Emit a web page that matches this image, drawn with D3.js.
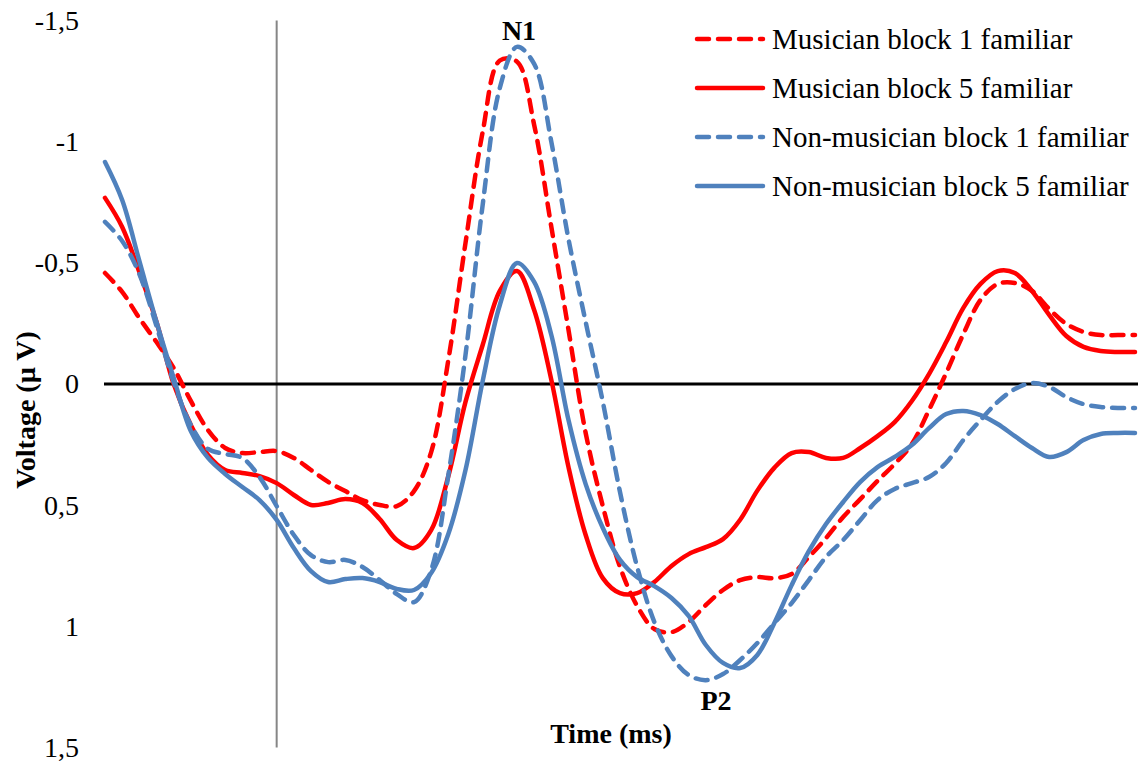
<!DOCTYPE html>
<html>
<head>
<meta charset="utf-8">
<script src="https://cdn.jsdelivr.net/npm/d3@7"></script>
<style>
  html, body { margin: 0; padding: 0; background: #fff; }
  svg { display: block; }
  text { font-family: "Liberation Serif", "Times New Roman", serif; fill: #000; }
</style>
</head>
<body>
<svg id="chart" width="1138" height="767"></svg>
<script>
// Time points (ms), 10 ms step from -100 to 500
const times = d3.range(-100, 501, 10);

// Voltage values (µV); negative is plotted upward
const musicianBlock1 = [
  -0.458, -0.380, -0.272, -0.173, -0.066, 0.070, 0.190, 0.264, 0.285, 0.281,
   0.277,  0.305,  0.355,  0.404,  0.442, 0.479, 0.499, 0.504, 0.442, 0.281,
  -0.099, -0.582, -1.040, -1.335, -1.330, -1.069, -0.648, -0.223, 0.202, 0.504,
   0.755,  0.916,  1.011,  1.024,  0.982, 0.912, 0.850, 0.809, 0.797, 0.801,
   0.784,  0.714,  0.636,  0.549,  0.475, 0.400, 0.330, 0.248, 0.107, -0.045,
  -0.206, -0.347, -0.413, -0.417, -0.384, -0.310, -0.248, -0.215, -0.202, -0.202,
  -0.202
];
const musicianBlock5 = [
  -0.768, -0.648, -0.462, -0.256, 0.000, 0.169, 0.293, 0.355, 0.367, 0.380,
   0.409,  0.458,  0.499,  0.491, 0.475, 0.491, 0.557, 0.644, 0.677, 0.603,
   0.380,  0.074, -0.161, -0.384, -0.466, -0.305, -0.017, 0.343, 0.623, 0.801,
   0.863,  0.863,  0.817,  0.751, 0.702, 0.673, 0.640, 0.560, 0.440, 0.345,
   0.285,  0.281,  0.305,  0.305, 0.264, 0.215, 0.157, 0.070, -0.041, -0.173,
  -0.314, -0.413, -0.466, -0.458, -0.384, -0.285, -0.198, -0.153, -0.136, -0.132,
  -0.132
];
const nonMusicianBlock1 = [
  -0.669, -0.590, -0.454, -0.239, -0.008, 0.169, 0.268, 0.289, 0.305, 0.384,
   0.504,  0.623,  0.706,  0.735,  0.726, 0.755, 0.809, 0.867, 0.900, 0.768,
   0.376, -0.120, -0.739, -1.222, -1.391, -1.321, -0.999, -0.598, -0.256, 0.074,
   0.446,  0.755,  0.982,  1.123,  1.201, 1.222, 1.197, 1.139, 1.069, 0.986,
   0.904,  0.809,  0.714,  0.644,  0.561, 0.479, 0.433, 0.409, 0.384, 0.326,
   0.231,  0.149,  0.074,  0.021, -0.004, 0.012, 0.054, 0.083, 0.095, 0.099,
   0.099
];
const nonMusicianBlock5 = [
  -0.916, -0.759, -0.508, -0.256, -0.025, 0.194, 0.305, 0.371, 0.425, 0.479,
   0.561,  0.677,  0.772,  0.817,  0.805, 0.801, 0.817, 0.846, 0.850, 0.780,
   0.619,  0.355, -0.012, -0.326, -0.499, -0.421, -0.202, 0.149, 0.413, 0.594,
   0.726,  0.797,  0.834,  0.883,  0.957, 1.077, 1.151, 1.172, 1.118, 0.985,
   0.830,  0.690,  0.578,  0.487,  0.404, 0.343, 0.301, 0.252, 0.182, 0.124,
   0.111,  0.128,  0.165,  0.215,  0.264, 0.301, 0.281, 0.231, 0.206, 0.202,
   0.202
];

const seriesNames = [
  "Musician block 1 familiar",
  "Musician block 5 familiar",
  "Non-musician block 1 familiar",
  "Non-musician block 5 familiar"
];
const yTickValues = [-1.5, -1, -0.5, 0, 0.5, 1, 1.5];
const yTickLabels = ["-1,5", "-1", "-0,5", "0", "0,5", "1", "1,5"];

const seriesValues = [musicianBlock1, musicianBlock5, nonMusicianBlock1, nonMusicianBlock5];
const seriesStyle = [
  { color: "#FF0000", dash: "12,9" },
  { color: "#FF0000", dash: null },
  { color: "#4F81BD", dash: "12,9" },
  { color: "#4F81BD", dash: null }
];

const svg = d3.select("#chart");
const x = d3.scaleLinear().domain([-100, 500]).range([105, 1135]);
const y = d3.scaleLinear().domain([-1.5, 1.5]).range([20.5, 747.5]);

// Y axis tick labels (no axis line)
const yAxis = d3.axisLeft(y).tickValues(yTickValues)
  .tickFormat((d, i) => yTickLabels[i]).tickSize(0).tickPadding(0);
const gy = svg.append("g").attr("transform", "translate(79,0)").call(yAxis);
gy.select(".domain").remove();
gy.selectAll("text")
  .style("font-family", '"Liberation Serif", "Times New Roman", serif')
  .style("font-size", "28px").attr("fill", "#000");

// vertical line at t = 0
svg.append("line")
  .attr("x1", x(0)).attr("x2", x(0))
  .attr("y1", y(-1.5)).attr("y2", y(1.5))
  .attr("stroke", "#868686").attr("stroke-width", 2);

// zero line
svg.append("line")
  .attr("x1", 104).attr("x2", 1138)
  .attr("y1", y(0)).attr("y2", y(0))
  .attr("stroke", "#000").attr("stroke-width", 3);

// series lines
const line = d3.line()
  .x((d, i) => x(times[i]))
  .y(d => y(d))
  .curve(d3.curveCatmullRom.alpha(0.5));

seriesValues.forEach((vals, k) => {
  const p = svg.append("path")
    .attr("d", line(vals))
    .attr("fill", "none")
    .attr("stroke", seriesStyle[k].color)
    .attr("stroke-width", 4.5)
    .attr("stroke-linecap", "round")
    .attr("stroke-linejoin", "round");
  if (seriesStyle[k].dash) p.attr("stroke-dasharray", seriesStyle[k].dash);
});

// annotations
svg.append("text").attr("x", 519).attr("y", 40)
  .attr("text-anchor", "middle").style("font-size", "28px").style("font-weight", "bold").text("N1");
svg.append("text").attr("x", 716).attr("y", 710)
  .attr("text-anchor", "middle").style("font-size", "28px").style("font-weight", "bold").text("P2");

// axis titles
svg.append("text").attr("x", 611).attr("y", 743)
  .attr("text-anchor", "middle").style("font-size", "28px").style("font-weight", "bold").text("Time (ms)");
svg.append("text")
  .attr("transform", "translate(35,410) rotate(-90)")
  .attr("text-anchor", "middle").style("font-size", "28px").style("font-weight", "bold").text("Voltage (µ V)");

// legend
const legendY = [39, 88, 137, 186];
seriesNames.forEach((name, k) => {
  const l = svg.append("line")
    .attr("x1", 697).attr("x2", 763)
    .attr("y1", legendY[k]).attr("y2", legendY[k])
    .attr("stroke", seriesStyle[k].color)
    .attr("stroke-width", 4.5)
    .attr("stroke-linecap", "round");
  if (seriesStyle[k].dash) l.attr("stroke-dasharray", seriesStyle[k].dash);
  svg.append("text").attr("x", 772).attr("y", legendY[k] + 10)
    .style("font-size", "29px").text(name);
});
</script>
</body>
</html>
